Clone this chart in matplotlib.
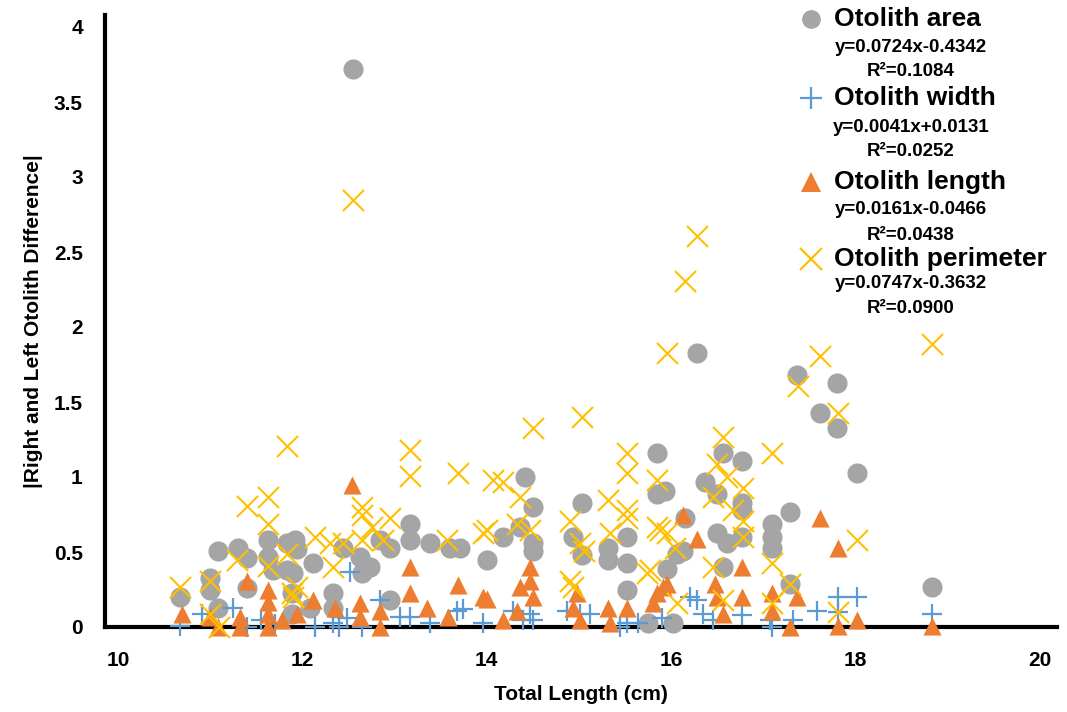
import matplotlib
matplotlib.use("Agg")
import matplotlib.pyplot as plt
from matplotlib.lines import Line2D

plt.rcParams['font.family'] = ['Liberation Sans', 'DejaVu Sans']

# otolith area
area_tl = [10.67, 11.0, 11.0, 11.08, 11.08, 11.30, 11.40, 11.40, 11.63, 11.63, 11.68, 11.83, 11.92,
           11.83, 11.89, 11.89, 11.94, 12.11, 11.90, 12.08, 12.33, 12.33, 12.44, 12.55, 12.62, 12.65,
           12.73, 12.84, 12.95, 12.95, 13.17, 13.17, 13.38, 13.60, 13.71, 14.0, 14.18, 14.36, 14.41,
           14.5, 14.5, 14.5, 14.93, 15.03, 15.03, 15.31, 15.31, 15.52, 15.52, 15.52, 15.75, 15.85,
           15.85, 15.93, 15.95, 16.02, 16.06, 16.13, 16.15, 16.28, 16.37, 16.50, 16.50, 16.56, 16.56,
           16.60, 16.77, 16.77, 16.77, 16.77, 17.09, 17.09, 17.09, 17.29, 17.29, 17.36, 17.61, 17.80,
           17.80, 18.01, 18.83]
area_diff = [0.20, 0.33, 0.25, 0.51, 0.13, 0.53, 0.46, 0.26, 0.58, 0.47, 0.38, 0.56, 0.58,
             0.38, 0.23, 0.09, 0.52, 0.43, 0.36, 0.13, 0.23, 0.13, 0.53, 3.72, 0.47, 0.36,
             0.40, 0.58, 0.53, 0.18, 0.69, 0.58, 0.56, 0.53, 0.53, 0.45, 0.60, 0.67, 1.0,
             0.80, 0.56, 0.51, 0.60, 0.83, 0.48, 0.53, 0.45, 0.60, 0.43, 0.25, 0.03, 1.16,
             0.89, 0.91, 0.39, 0.03, 0.49, 0.51, 0.73, 1.83, 0.97, 0.89, 0.63, 1.16, 0.40,
             0.56, 1.11, 0.83, 0.78, 0.60, 0.69, 0.60, 0.53, 0.77, 0.29, 1.68, 1.43, 1.63,
             1.33, 1.03, 0.27]

# otolith width
width_tl = [10.67, 10.91, 11.25, 11.40, 11.55, 11.70, 12.14, 12.33, 12.40, 12.48, 12.52, 12.65,
            12.84, 13.06, 13.17, 13.38, 13.68, 13.74, 13.96, 14.28, 14.39, 14.47, 14.50, 14.87,
            15.01, 15.12, 15.44, 15.52, 15.64, 15.90, 16.20, 16.28, 16.34, 16.45, 16.77, 17.07,
            17.09, 17.32, 17.58, 17.81, 18.01, 17.81, 18.83]
width_diff = [0.01, 0.09, 0.13, 0.0, 0.05, 0.02, 0.0, 0.03, 0.0, 0.06, 0.37, 0.0,
              0.18, 0.07, 0.07, 0.03, 0.11, 0.12, 0.03, 0.11, 0.05, 0.09, 0.05, 0.11,
              0.09, 0.09, 0.0, 0.03, 0.03, 0.06, 0.20, 0.18, 0.09, 0.05, 0.08, 0.05,
              0.0, 0.05, 0.11, 0.20, 0.20, 0.10, 0.09]

# otolith length
length_tl = [10.69, 11.0, 11.08, 11.32, 11.32, 11.40, 11.63, 11.63, 11.63, 11.63, 11.78, 11.94,
             12.11, 12.35, 12.54, 12.62, 12.62, 12.84, 12.84, 13.17, 13.17, 13.35, 13.58, 13.69,
             13.96, 14.0, 14.18, 14.33, 14.36, 14.47, 14.47, 14.50, 14.93, 14.98, 15.01, 15.31,
             15.34, 15.52, 15.80, 15.85, 15.91, 15.95, 16.13, 16.28, 16.48, 16.50, 16.56, 16.77,
             16.77, 17.09, 17.09, 17.29, 17.36, 17.61, 17.81, 17.81, 18.01, 18.83]
length_diff = [0.09, 0.07, 0.0, 0.07, 0.0, 0.31, 0.25, 0.17, 0.09, 0.0, 0.05, 0.09,
               0.18, 0.13, 0.95, 0.16, 0.07, 0.11, 0.0, 0.40, 0.23, 0.13, 0.07, 0.28,
               0.20, 0.19, 0.05, 0.11, 0.27, 0.40, 0.31, 0.20, 0.13, 0.23, 0.05, 0.13,
               0.03, 0.13, 0.16, 0.23, 0.27, 0.29, 0.75, 0.59, 0.29, 0.20, 0.09, 0.40,
               0.20, 0.23, 0.11, 0.0, 0.20, 0.73, 0.53, 0.01, 0.05, 0.01]

# otolith perimeter
perim_tl = [10.67, 11.0, 11.0, 11.10, 11.29, 11.40, 11.63, 11.63, 11.63, 11.83, 11.83, 11.89,
            11.90, 11.94, 12.14, 12.30, 12.33, 12.44, 12.55, 12.65, 12.65, 12.65, 12.76, 12.87,
            12.95, 13.17, 13.17, 13.57, 13.69, 13.96, 14.0, 14.07, 14.18, 14.33, 14.36, 14.47,
            14.50, 14.90, 14.90, 14.93, 15.01, 15.03, 15.05, 15.31, 15.34, 15.52, 15.52, 15.52,
            15.52, 15.74, 15.77, 15.85, 15.85, 15.88, 15.95, 15.95, 16.04, 16.06, 16.15, 16.28,
            16.45, 16.45, 16.50, 16.56, 16.56, 16.60, 16.67, 16.78, 16.78, 16.78, 17.09, 17.09,
            17.09, 17.29, 17.38, 17.61, 17.81, 17.81, 18.01, 18.83]
perim_diff = [0.27, 0.31, 0.09, 0.0, 0.45, 0.81, 0.87, 0.69, 0.41, 1.21, 0.49, 0.23,
              0.20, 0.27, 0.60, 0.56, 0.40, 0.56, 2.85, 0.80, 0.75, 0.58, 0.67, 0.58,
              0.73, 1.18, 1.01, 0.58, 1.03, 0.63, 0.65, 0.98, 0.97, 0.69, 0.87, 0.65,
              1.33, 0.71, 0.31, 0.27, 0.56, 1.40, 0.51, 0.85, 0.63, 1.16, 1.03, 0.78,
              0.73, 0.36, 0.38, 0.98, 0.67, 0.65, 1.83, 0.63, 0.53, 0.16, 2.31, 2.61,
              0.87, 0.40, 1.09, 1.27, 0.18, 1.00, 0.78, 0.93, 0.71, 0.60, 1.16, 0.43,
              0.16, 0.29, 1.61, 1.81, 1.43, 0.10, 0.58, 1.89]

series_names = ['Otolith area', 'Otolith width', 'Otolith length', 'Otolith perimeter']
equations = ['y=0.0724x-0.4342', 'y=0.0041x+0.0131', 'y=0.0161x-0.0466', 'y=0.0747x-0.3632']
r_squared = ['R²=0.1084', 'R²=0.0252', 'R²=0.0438', 'R²=0.0900']

gray = '#A5A5A5'
blue = '#5B9BD5'
orange = '#ED7D31'
yellow = '#FFC000'

W, H = 1067, 712
fig = plt.figure(figsize=(W / 100, H / 100), dpi=100)
ax = fig.add_axes([105 / W, 1 - 627 / H, (1057 - 105) / W, (627 - 15) / H])

ax.scatter(area_tl, area_diff, s=210, marker='o', color=gray, linewidths=0, clip_on=False, zorder=3)
ax.scatter(width_tl, width_diff, s=190, marker='+', color=blue, linewidths=1.6, clip_on=False, zorder=4)
ax.scatter(length_tl, length_diff, s=170, marker='^', color=orange, linewidths=0, clip_on=False, zorder=5)
ax.scatter(perim_tl, perim_diff, s=230, marker='x', color=yellow, linewidths=1.5, clip_on=False, zorder=6)

ax.set_xlim(10 - 13 / 92.2, 20 + 17 / 92.2)
ax.set_ylim(0, 4.08)
ax.set_xticks([10, 12, 14, 16, 18, 20])
ax.set_yticks([0, 0.5, 1, 1.5, 2, 2.5, 3, 3.5, 4])
ax.set_yticklabels(['0', '0.5', '1', '1.5', '2', '2.5', '3', '3.5', '4'])
ax.tick_params(length=0, labelsize=15)
ax.tick_params(axis='x', pad=17)
ax.tick_params(axis='y', pad=16)
for lab in ax.get_xticklabels() + ax.get_yticklabels():
    lab.set_fontweight('bold')
for s in ['top', 'right']:
    ax.spines[s].set_visible(False)
for s in ['left', 'bottom']:
    ax.spines[s].set_linewidth(3)
    ax.spines[s].set_zorder(2)

ax.set_xlabel('Total Length (cm)', fontsize=15, fontweight='bold', labelpad=11)
ax.set_ylabel('|Right and Left Otolith Difference|', fontsize=15, fontweight='bold', labelpad=8)

# legend drawn by hand
mk = [('o', gray, 13.5, 0), ('+', blue, 16, 1.6), ('^', orange, 15, 0), ('x', yellow, 16, 1.6)]
title_y = [19, 98, 182, 259]
eq_y = [48, 127, 210, 284]
r2_y = [72, 151, 235, 308]
for i in range(4):
    m, c, ms, lw = mk[i]
    fig.add_artist(Line2D([811 / W], [1 - title_y[i] / H], marker=m, color=c, markersize=ms,
                          markeredgewidth=lw, linestyle='none', transform=fig.transFigure))
    fig.text(834 / W, 1 - title_y[i] / H, series_names[i], fontsize=19, fontweight='bold',
             ha='left', va='center')
    fig.text(911 / W, 1 - eq_y[i] / H, equations[i], fontsize=13.5, fontweight='bold',
             ha='center', va='center')
    fig.text(911 / W, 1 - r2_y[i] / H, r_squared[i], fontsize=13.5, fontweight='bold',
             ha='center', va='center')

fig.savefig('out.png', dpi=100)
